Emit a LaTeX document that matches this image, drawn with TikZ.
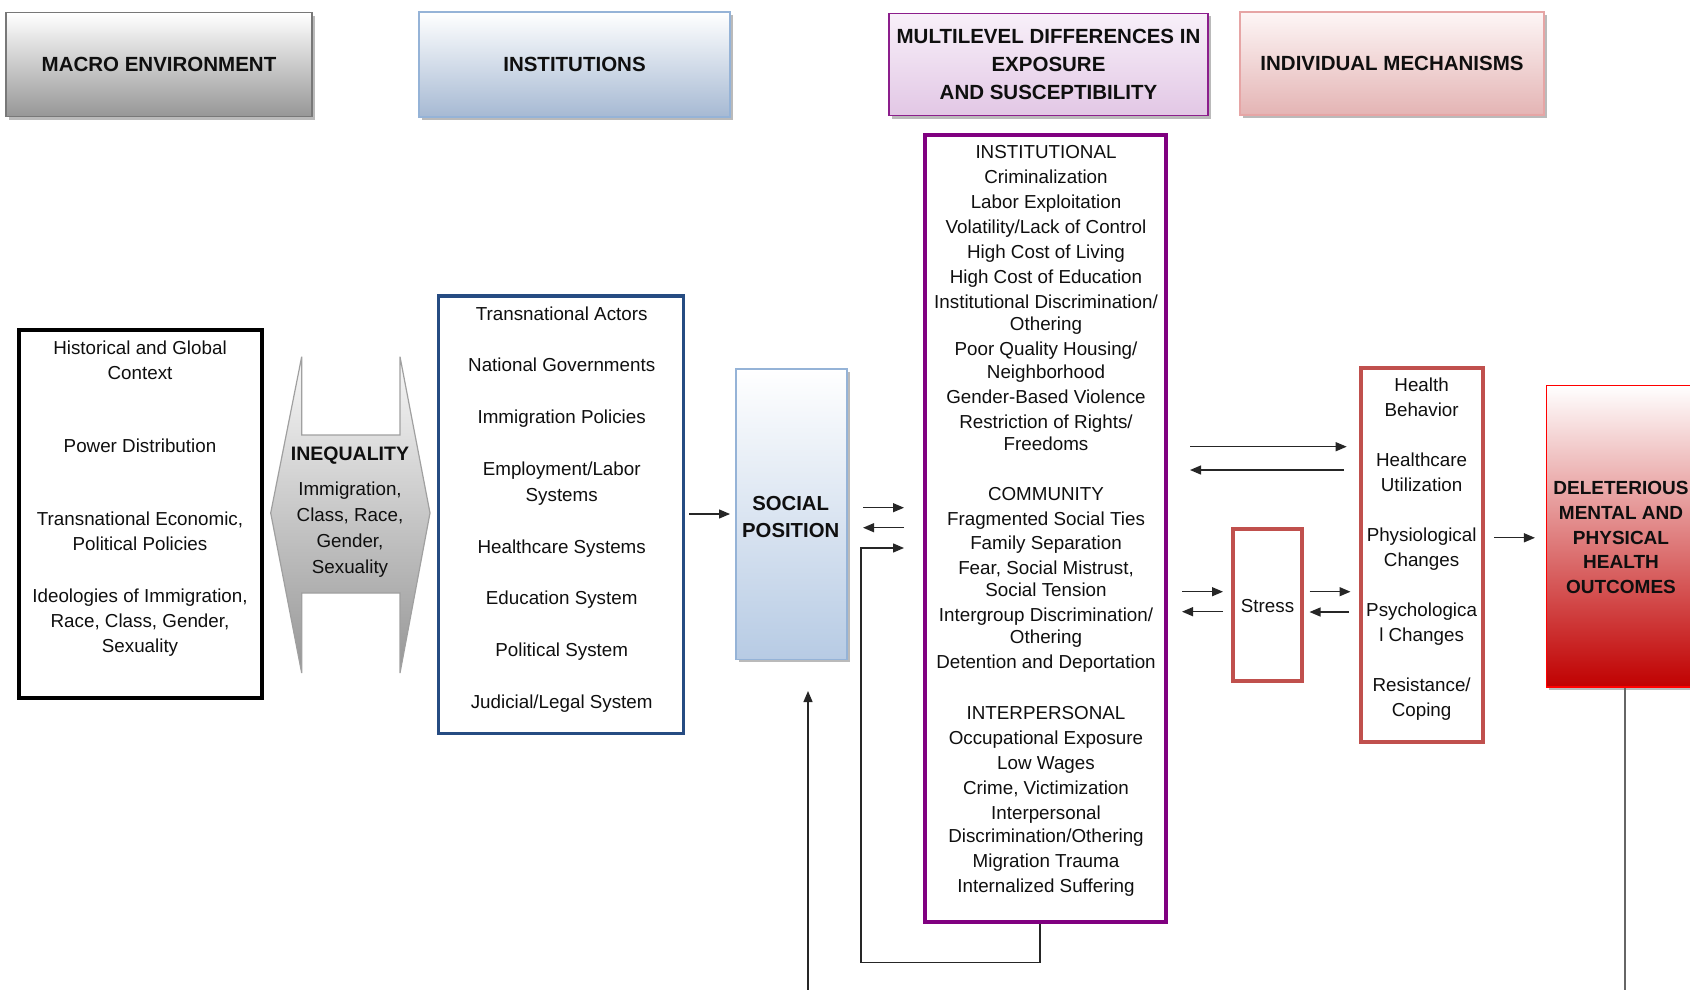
\documentclass[tikz,border=0pt]{standalone}
\usepackage{fontspec}
\setmainfont{Liberation Sans}
\usetikzlibrary{arrows.meta,shadows}
\definecolor{macroborder}{RGB}{120,120,120}
\definecolor{macrogray}{RGB}{150,150,150}
\definecolor{instborder}{RGB}{149,179,215}
\definecolor{instbottom}{RGB}{166,185,211}
\definecolor{multitop}{RGB}{248,240,249}
\definecolor{multibottom}{RGB}{226,199,229}
\definecolor{multiborder}{RGB}{140,30,140}
\definecolor{indivtop}{RGB}{253,246,246}
\definecolor{indivbottom}{RGB}{228,180,180}
\definecolor{indivborder}{RGB}{230,165,165}
\definecolor{ineqtop}{RGB}{248,248,248}
\definecolor{ineqbottom}{RGB}{150,150,150}
\definecolor{ineqborder}{RGB}{160,160,160}
\definecolor{instblue}{RGB}{38,76,130}
\definecolor{socborder}{RGB}{149,179,215}
\definecolor{socbottom}{RGB}{183,203,228}
\definecolor{purp}{RGB}{128,0,128}
\definecolor{redbox}{RGB}{192,80,77}
\definecolor{delred}{RGB}{192,0,0}
\definecolor{delborder}{RGB}{255,0,0}
\definecolor{txt}{RGB}{15,15,15}
\begin{document}
\begin{tikzpicture}[x=1pt,y=-1pt,
  body/.style={font=\fontsize{18.8}{25}\selectfont, align=center, inner sep=0pt, text=txt},
  boldtxt/.style={font=\bfseries\fontsize{19.5}{25}\selectfont, align=center, text=txt},
  hdr/.style={font=\bfseries\fontsize{20.5}{28}\selectfont, align=center, line width=1.5pt, text=txt,
    drop shadow={shadow xshift=3pt,shadow yshift=-3pt,fill=black!45,opacity=.6}},
  thickbox/.style={line width=4pt},
  shadowed/.style={drop shadow={shadow xshift=3pt,shadow yshift=-3pt,fill=black!45,opacity=.6}},
  arr/.style={-{Triangle[length=11pt,width=9pt]}, line width=1.3pt, draw=black!85},
]
\useasboundingbox (0,0) rectangle (1690,990);
\clip (0,0) rectangle (1690,990);

% header boxes
\node[hdr, draw=macroborder, top color=white, bottom color=macrogray, minimum width=305.6pt, minimum height=104pt] (hmacro) at (159,64.7) {MACRO ENVIRONMENT};
\node[hdr, draw=instborder, top color=white, bottom color=instbottom, minimum width=311pt, minimum height=105pt] (hinst) at (574.5,64.3) {INSTITUTIONS};
\node[hdr, draw=multiborder, top color=multitop, bottom color=multibottom, minimum width=319pt, minimum height=102pt] (hmulti) at (1048.5,64.5) {MULTILEVEL DIFFERENCES IN\\EXPOSURE\\AND SUSCEPTIBILITY};
\node[hdr, draw=indivborder, top color=indivtop, bottom color=indivbottom, minimum width=304pt, minimum height=103pt] (hindiv) at (1392,63.5) {INDIVIDUAL MECHANISMS};

% macro environment box
\node[draw=black, thickbox, minimum width=243pt, minimum height=368pt] (ctx) at (140.5,514) {};
\node[body] (hist) at (140,360.5) {Historical and Global\\Context};
\node[body] (power) at (140,446) {Power Distribution};
\node[body] (trans) at (140,531) {Transnational Economic,\\Political Policies};
\node[body] (ideol) at (140,622.5) {Ideologies of Immigration,\\Race, Class, Gender,\\Sexuality};

% inequality double arrow
\path[draw=ineqborder, line width=1.2pt, top color=ineqtop, bottom color=ineqbottom]
  (301.7,356.7) -- (301.7,435) -- (400,435) -- (400,356.7) -- (430,513) -- (400,673)
  -- (400,593) -- (301.7,593) -- (301.7,673) -- (270.7,513) -- cycle;
\node[boldtxt, inner sep=0pt] (ineqt) at (350,455.5) {INEQUALITY};
\node[body, font=\fontsize{18.8}{26}\selectfont] (ineql) at (350,530) {Immigration,\\Class, Race,\\Gender,\\Sexuality};

% institutions box
\node[draw=instblue, line width=3.5pt, minimum width=244.8pt, minimum height=437.5pt] (instb) at (560.9,514.5) {};
\node[body, font=\fontsize{18.8}{25.8}\selectfont] (instt) at (561.7,509.5) {Transnational Actors\\[26pt]National Governments\\[26pt]Immigration Policies\\[26pt]Employment/Labor\\Systems\\[26pt]Healthcare Systems\\[26pt]Education System\\[26pt]Political System\\[26pt]Judicial/Legal System};

% social position
\node[draw=socborder, line width=1.5pt, top color=white, bottom color=socbottom, shadowed, minimum width=111.2pt, minimum height=290.5pt] (soc) at (791.4,514) {};
\node[boldtxt, inner sep=0pt, font=\bfseries\fontsize{20.3}{27}\selectfont] (soct) at (790.7,517.5) {SOCIAL\\POSITION};

% exposure box
\node[draw=purp, thickbox, minimum width=241.8pt, minimum height=787.1pt] (expo) at (1045.5,528.2) {};
\node[body] (instl) at (1046,298) {INSTITUTIONAL\\Criminalization\\Labor Exploitation\\Volatility/Lack of Control\\High Cost of Living\\High Cost of Education\\Institutional Discrimination/\\[-2.5pt]Othering\\Poor Quality Housing/\\[-2.5pt]Neighborhood\\Gender-Based Violence\\Restriction of Rights/\\[-2.5pt]Freedoms};
\node[body, font=\fontsize{18.8}{24.5}\selectfont] (comm) at (1046,580) {COMMUNITY\\Fragmented Social Ties\\Family Separation\\Fear, Social Mistrust,\\[-2pt]Social Tension\\Intergroup Discrimination/\\[-2pt]Othering\\Detention and Deportation};
\node[body] (interp) at (1046,801.5) {INTERPERSONAL\\Occupational Exposure\\Low Wages\\Crime, Victimization\\Interpersonal\\[-2.5pt]Discrimination/Othering\\Migration Trauma\\Internalized Suffering};

% stress
\node[draw=redbox, thickbox, minimum width=69pt, minimum height=152pt] (stress) at (1267.5,605) {};
\node[body] (stresst) at (1267.5,606.5) {Stress};

% individual mechanisms box
\node[draw=redbox, thickbox, minimum width=122pt, minimum height=373.7pt] (mech) at (1422,554.9) {};
\node[body] (mecht) at (1421.6,549.5) {Health\\Behavior\\[25pt]Healthcare\\Utilization\\[25pt]Physiological\\Changes\\[25pt]Psychologica\\l Changes\\[25pt]Resistance/\\Coping};

% outcomes
\node[draw=delborder, line width=1.5pt, top color=white, bottom color=delred, shadowed, minimum width=150pt, minimum height=301.3pt] (out) at (1621.3,536.2) {};
\node[boldtxt, inner sep=0pt, font=\bfseries\fontsize{19}{24.8}\selectfont] (outt) at (1621,537.5) {DELETERIOUS\\MENTAL AND\\PHYSICAL\\HEALTH\\OUTCOMES};

% coordinates for free ends
\coordinate (loopR) at (1040,962.5);
\coordinate (loopL) at (861,962.5);
\coordinate (fbin) at (808,990);
\coordinate (fbout) at (1625,990);

% connectors
\draw[arr, shorten <=4pt, shorten >=5pt] (instb.east |- 0,514) -- (soc.west |- 0,514);
\draw[arr, shorten <=15.3pt, shorten >=18.6pt] (soc.east |- 0,507.7) -- (expo.west |- 0,507.7);
\draw[arr, shorten <=18.6pt, shorten >=15.3pt] (expo.west |- 0,527.7) -- (soc.east |- 0,527.7);
\draw[arr, shorten >=18.6pt] (expo.south -| loopR) -- (loopR) -- (loopL) |- (expo.west |- 0,548);
\draw[arr, shorten >=31pt] (fbin) -- (fbin |- soc.south);
\draw[line width=1.3pt, draw=black!60] (out.south -| fbout) -- (fbout);

\draw[arr, shorten <=21.6pt, shorten >=12.3pt] (expo.east |- 0,446.7) -- (mech.west |- 0,446.7);
\draw[arr, shorten <=15pt, shorten >=21.6pt] (mech.west |- 0,470) -- (expo.east |- 0,470);
\draw[arr, shorten <=13.6pt, shorten >=8pt] (expo.east |- 0,591.7) -- (stress.west |- 0,591.7);
\draw[arr, shorten <=8pt, shorten >=13.6pt] (stress.west |- 0,611.7) -- (expo.east |- 0,611.7);
\draw[arr, shorten <=5.5pt, shorten >=8.5pt] (stress.east |- 0,591.7) -- (mech.west |- 0,591.7);
\draw[arr, shorten <=10pt, shorten >=5.5pt] (mech.west |- 0,612) -- (stress.east |- 0,612);
\draw[arr, shorten <=9pt, shorten >=10.6pt] (mech.east |- 0,537.8) -- (out.west |- 0,537.8);
\end{tikzpicture}
\end{document}
